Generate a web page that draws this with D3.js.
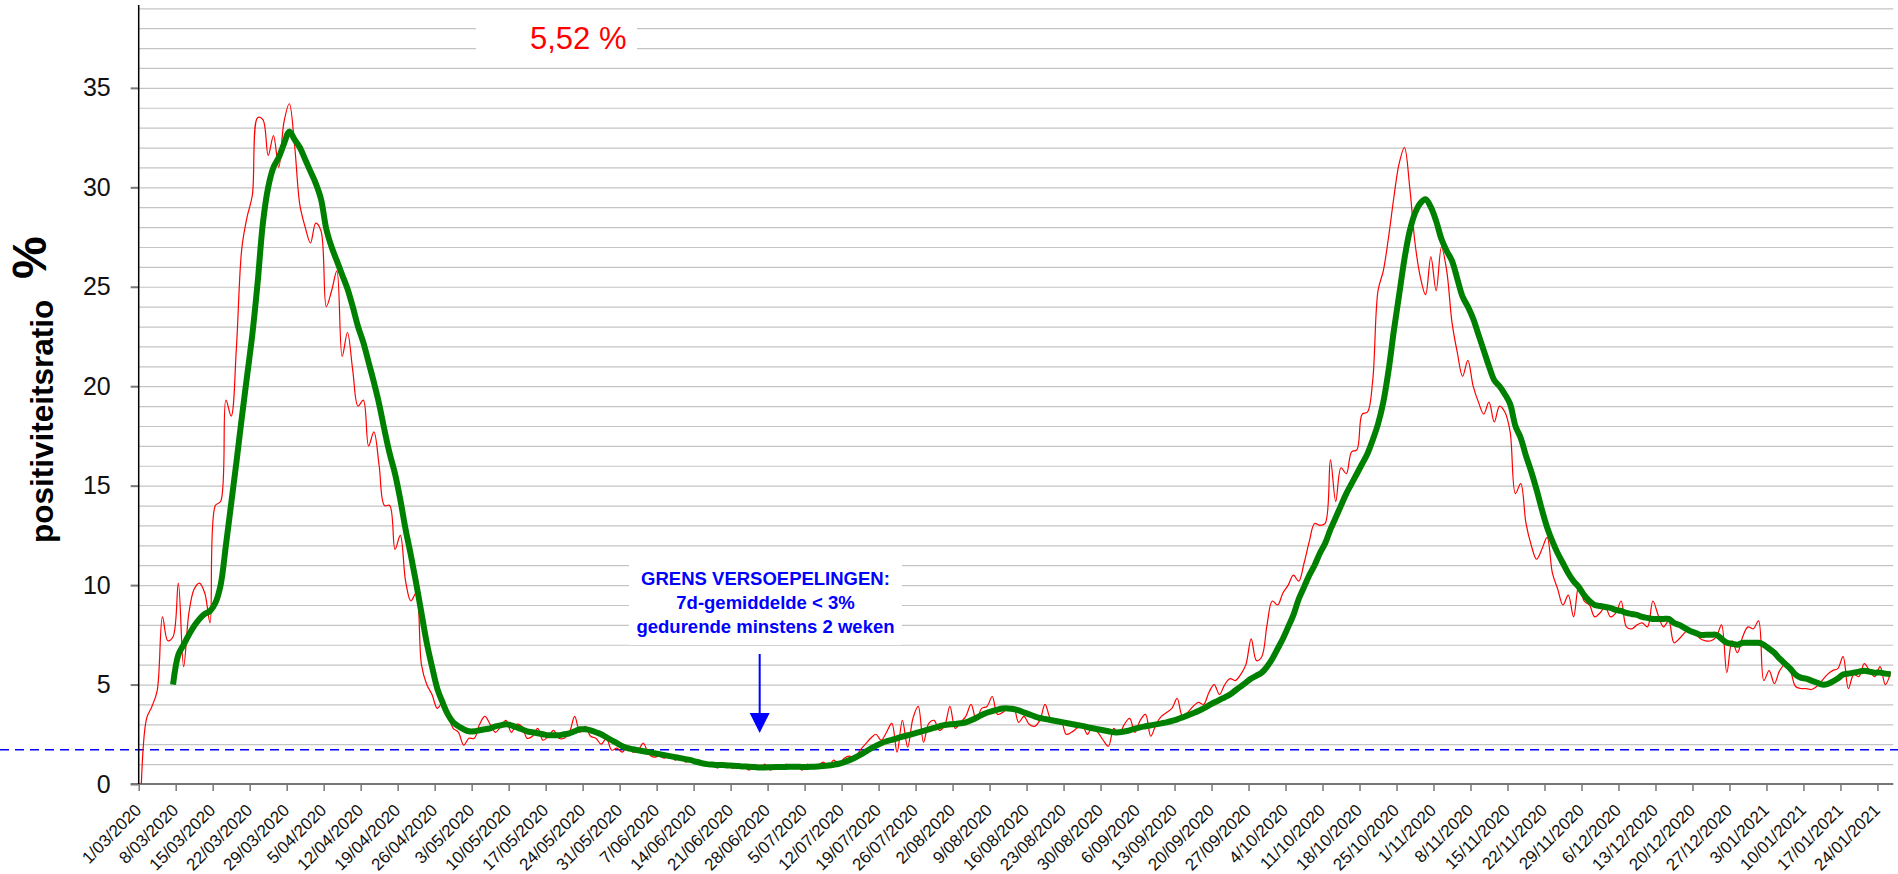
<!DOCTYPE html>
<html>
<head>
<meta charset="utf-8">
<script src="https://cdn.jsdelivr.net/npm/d3@7"></script>
<style>
  body { margin: 0; background: #fff; }
  svg { display: block; font-family: "Liberation Sans", Arial, sans-serif; }
</style>
</head>
<body>
<script>
//Declare consts/global variables
const width = 1898;
const height = 874;
const plotLeft = 138.7, plotRight = 1893.3, plotBottom = 784, plotTop = 8.3;

//Data: one value per day starting 1/03/2020
const tickLabels = ["1/03/2020","8/03/2020","15/03/2020","22/03/2020","29/03/2020","5/04/2020","12/04/2020","19/04/2020","26/04/2020","3/05/2020","10/05/2020","17/05/2020","24/05/2020","31/05/2020","7/06/2020","14/06/2020","21/06/2020","28/06/2020","5/07/2020","12/07/2020","19/07/2020","26/07/2020","2/08/2020","9/08/2020","16/08/2020","23/08/2020","30/08/2020","6/09/2020","13/09/2020","20/09/2020","27/09/2020","4/10/2020","11/10/2020","18/10/2020","25/10/2020","1/11/2020","8/11/2020","15/11/2020","22/11/2020","29/11/2020","6/12/2020","13/12/2020","20/12/2020","27/12/2020","3/01/2021","10/01/2021","17/01/2021","24/01/2021"];

// daily positivity ratio (red)
const daily = [
  0, 3.3, 3.9, 4.7, 8.4, 7.2, 7.4, 10.1, 5.9, 8.6,
  9.8, 10.1, 9.6, 8.1, 14.0, 14.2, 19.3, 18.5, 22.0, 26.9,
  28.5, 29.6, 33.5, 33.4, 31.6, 32.6, 31.0, 33.3, 34.2, 32.1,
  29.1, 28.0, 27.2, 28.2, 27.8, 24.0, 24.8, 25.8, 21.5, 22.7,
  20.8, 19.0, 19.3, 17.0, 17.7, 16.0, 14.0, 14.0, 11.8, 12.5,
  10.2, 9.2, 9.6, 6.0, 5.0, 4.5, 3.8, 4.1, 3.5, 2.8,
  2.6, 1.95, 2.3, 2.3, 3.0, 3.4, 3.0, 2.6, 2.9, 3.2,
  2.6, 3.0, 2.9, 2.3, 2.4, 2.8, 2.2, 2.4, 2.7, 2.3,
  2.3, 2.6, 3.4, 2.6, 2.9, 2.4, 2.3, 2.0, 2.3, 1.7,
  1.8, 1.6, 1.9, 1.6, 1.7, 2.05, 1.5, 1.35, 1.4, 1.3,
  1.5, 1.2, 1.4, 1.1, 1.3, 1.0, 1.1, 0.9, 1.0, 0.8,
  1.0, 0.9, 0.8, 1.0, 0.9, 0.7, 0.9, 0.8, 1.0, 0.7,
  0.9, 0.8, 1.0, 0.8, 0.9, 0.7, 1.0, 0.8, 0.9, 1.1,
  0.9, 1.2, 1.0, 1.3, 1.4, 1.3, 1.7, 2.0, 2.3, 2.5,
  2.2, 2.6, 3.05, 1.6, 3.2, 1.85, 3.3, 3.9, 2.1, 3.05,
  3.2, 2.7, 2.95, 3.9, 2.8, 3.1, 3.4, 4.0, 3.2, 3.8,
  3.9, 4.4, 3.5, 3.6, 3.8, 3.9, 3.1, 3.4, 3.0, 2.9,
  3.2, 4.0, 3.3, 3.1, 3.2, 2.5, 2.6, 2.8, 3.0, 2.5,
  2.9, 2.6, 2.2, 1.9, 2.8, 2.5, 3.0, 3.3, 2.6, 3.2,
  3.5, 2.4, 3.0, 3.4, 3.6, 3.8, 4.3, 3.4, 3.6, 3.9,
  4.1, 4.0, 4.6, 5.0, 4.5, 5.0, 5.3, 5.2, 5.5, 6.0,
  7.3, 6.2, 6.4, 8.0, 9.2, 9.0, 9.6, 10.0, 10.5, 10.2,
  11.1, 12.2, 13.1, 13.0, 13.1, 16.3, 14.2, 15.9, 15.6, 16.7,
  16.8, 18.6, 18.7, 20.3, 24.8, 25.8, 27.5, 29.5, 31.2, 32.0,
  30.0, 27.2, 25.5, 24.6, 26.5, 24.8, 27.0, 25.8, 23.2, 21.7,
  20.5, 21.3, 20.0, 19.2, 18.6, 19.2, 18.2, 19.0, 18.7, 17.7,
  14.6, 15.1, 13.1, 12.0, 11.3, 11.8, 12.4, 10.6, 9.8, 9.0,
  9.5, 8.4, 10.0, 9.2, 9.0, 8.4, 8.6, 8.9, 8.4, 8.6,
  9.2, 7.9, 7.8, 8.0, 8.1, 7.9, 9.2, 8.5, 7.9, 8.2,
  7.1, 7.3, 7.6, 7.8, 7.6, 7.3, 7.2, 7.2, 7.4, 8.0,
  5.6, 7.2, 6.6, 7.4, 7.9, 7.8, 8.2, 5.2, 5.7, 5.05,
  5.7, 6.0, 5.7, 4.9, 4.8, 4.8, 4.75, 4.9, 5.2, 5.5,
  5.7, 5.8, 6.4, 4.8, 5.5, 5.4, 6.05, 5.7, 5.4, 5.9,
  5.0, 5.6
];

// 7-day average (green)
const avg7 = [
  null, null, null, null, null, null, 5.0, 6.5, 7.0, 7.5,
  7.95, 8.3, 8.55, 8.7, 9.1, 10.0, 12.0, 14.1, 16.2, 18.4,
  20.5, 22.6, 25.2, 28.2, 30.0, 31.0, 31.5, 32.2, 32.8, 32.4,
  32.0, 31.4, 30.8, 30.2, 29.4, 27.9, 27.0, 26.3, 25.6, 24.9,
  24.0, 23.0, 22.2, 21.2, 20.2, 19.1, 17.8, 16.6, 15.6, 14.3,
  12.8, 11.5, 10.1, 8.6, 7.1, 5.9, 4.8, 4.1, 3.5, 3.1,
  2.9, 2.75, 2.65, 2.65, 2.7, 2.75, 2.8, 2.9, 2.95, 3.0,
  2.95, 2.85, 2.75, 2.65, 2.6, 2.55, 2.5, 2.45, 2.45, 2.45,
  2.5, 2.55, 2.65, 2.75, 2.75, 2.7, 2.6, 2.5, 2.35, 2.2,
  2.05, 1.9, 1.8, 1.75, 1.7, 1.65, 1.6, 1.55, 1.5, 1.45,
  1.4, 1.35, 1.3, 1.25, 1.2, 1.12, 1.05, 1.0, 0.98, 0.96,
  0.95, 0.93, 0.92, 0.9, 0.88, 0.87, 0.85, 0.83, 0.83, 0.84,
  0.85, 0.85, 0.86, 0.87, 0.87, 0.86, 0.86, 0.87, 0.88, 0.9,
  0.93, 0.97, 1.02, 1.1, 1.2, 1.32, 1.46, 1.62, 1.78, 1.92,
  2.05, 2.15, 2.22, 2.3, 2.38, 2.45, 2.52, 2.6, 2.67, 2.75,
  2.82, 2.9, 2.97, 3.0, 3.02, 3.05, 3.1, 3.2, 3.33, 3.47,
  3.58, 3.66, 3.74, 3.8, 3.8, 3.77, 3.7, 3.6, 3.5, 3.4,
  3.32, 3.27, 3.22, 3.17, 3.12, 3.07, 3.02, 2.97, 2.92, 2.86,
  2.8, 2.75, 2.7, 2.65, 2.6, 2.6, 2.64, 2.7, 2.78, 2.85,
  2.9, 2.95, 3.0, 3.05, 3.1, 3.17, 3.25, 3.35, 3.45, 3.56,
  3.67, 3.8, 3.95, 4.1, 4.22, 4.36, 4.5, 4.7, 4.9, 5.1,
  5.3, 5.45, 5.6, 5.9, 6.3, 6.8, 7.3, 7.9, 8.5, 9.3,
  9.9, 10.5, 11.0, 11.6, 12.1, 12.8, 13.4, 14.0, 14.6, 15.1,
  15.6, 16.1, 16.6, 17.3, 18.1, 19.2, 20.8, 22.8, 24.6, 26.4,
  27.8, 28.7, 29.2, 29.4, 29.0, 28.3, 27.4, 26.8, 26.3, 25.4,
  24.5, 24.0, 23.4, 22.6, 21.8, 21.0, 20.3, 20.0, 19.6, 19.1,
  18.0, 17.4, 16.5, 15.7, 14.8, 13.8, 12.9, 12.2, 11.6, 11.1,
  10.6, 10.2, 9.9, 9.5, 9.2, 9.0, 8.95, 8.9, 8.85, 8.75,
  8.7, 8.6, 8.55, 8.5, 8.4, 8.35, 8.3, 8.3, 8.3, 8.3,
  8.1, 8.0, 7.85, 7.7, 7.6, 7.5, 7.5, 7.5, 7.5, 7.3,
  7.1, 7.05, 7.0, 7.1, 7.1, 7.1, 7.1, 7.0, 6.8, 6.6,
  6.3, 6.05, 5.8, 5.5, 5.35, 5.3, 5.2, 5.1, 5.0, 5.02,
  5.15, 5.3, 5.5, 5.55, 5.6, 5.65, 5.7, 5.65, 5.6, 5.6,
  5.55, 5.52
];

const yTicks = [0, 5, 10, 15, 20, 25, 30, 35];
const threshold = 1.72;
const lastValue = "5,52 %";
const noteLines = ["GRENS VERSOEPELINGEN:", "7d-gemiddelde < 3%", "gedurende minstens 2 weken"];
const noteDay = 117.5;

//Scales
const nDays = daily.length;
const xScale = d3.scaleLinear().domain([0, nDays]).range([plotLeft, plotRight]);
const yScale = d3.scaleLinear().domain([0, 39]).range([plotBottom, plotTop]);

//SVG
const svg = d3.select("body").append("svg")
    .attr("width", width)
    .attr("height", height);
svg.append("rect").attr("width", width).attr("height", height).attr("fill", "#fff");

//Gridlines
svg.append("g")
    .attr("transform", "translate(" + plotLeft + ",0)")
    .call(d3.axisLeft(yScale).tickValues(d3.range(1, 40)).tickSize(-(plotRight - plotLeft)).tickFormat(""))
    .call(g => g.select(".domain").remove())
    .selectAll("line").attr("stroke", "#c4c4c4").attr("stroke-width", 1.2);

//Boxes behind the texts
svg.append("rect").attr("x", 476).attr("y", 13).attr("width", 161).attr("height", 46).attr("fill", "#fff");
svg.append("rect").attr("x", 629).attr("y", 553).attr("width", 273).attr("height", 92).attr("fill", "#fff");

//Threshold line
svg.append("line")
    .attr("x1", 0).attr("x2", width)
    .attr("y1", yScale(threshold)).attr("y2", yScale(threshold))
    .attr("stroke", "#0000ff").attr("stroke-width", 1.6)
    .attr("stroke-dasharray", "9,6");

//Axes
const bottomAxis = d3.axisBottom(xScale)
    .tickValues(tickLabels.map((t, i) => i * 7))
    .tickFormat((d, i) => tickLabels[i])
    .tickSize(7)
    .tickSizeOuter(0);
const xg = svg.append("g")
    .attr("transform", "translate(0," + plotBottom + ")")
    .call(bottomAxis);
xg.select(".domain").attr("d", "M" + (plotLeft - 8) + ",0H" + plotRight).attr("stroke", "#777").attr("stroke-width", 2);
xg.selectAll(".tick line").attr("stroke", "#777").attr("stroke-width", 1.5);
xg.selectAll(".tick text")
    .attr("y", 0).attr("dy", "0.35em")
    .attr("transform", "translate(-1,23) rotate(-45)")
    .attr("text-anchor", "end")
    .attr("font-size", 17)
    .attr("fill", "#111");

const leftAxis = d3.axisLeft(yScale).tickValues(yTicks).tickSize(8).tickPadding(20).tickSizeOuter(0);
const yg = svg.append("g")
    .attr("transform", "translate(" + plotLeft + ",0)")
    .call(leftAxis);
yg.select(".domain").remove();
yg.selectAll(".tick line").attr("stroke", "#777").attr("stroke-width", 2);
yg.selectAll(".tick text").attr("font-size", 25).attr("fill", "#111");
svg.append("line")
    .attr("x1", plotLeft).attr("x2", plotLeft).attr("y1", 5).attr("y2", plotBottom)
    .attr("stroke", "#000").attr("stroke-width", 1.5);

//Lines
const line = d3.line()
    .defined(d => d != null)
    .x((d, i) => xScale(i + 0.5))
    .y(d => yScale(d))
    .curve(d3.curveCatmullRom);

svg.append("path")
    .datum(daily)
    .attr("d", line)
    .attr("fill", "none")
    .attr("stroke", "#ff0000")
    .attr("stroke-width", 1.2);

svg.append("path")
    .datum(avg7)
    .attr("d", line)
    .attr("fill", "none")
    .attr("stroke", "#008000")
    .attr("stroke-width", 6)
    .attr("stroke-linejoin", "round");

//Texts
svg.append("text")
    .attr("x", 530).attr("y", 49)
    .attr("font-size", 31).attr("fill", "#ff0000")
    .text(lastValue);

svg.append("text")
    .attr("transform", "translate(53,543) rotate(-90)")
    .attr("font-size", 31.5).attr("font-weight", "bold").attr("fill", "#000")
    .text("positiviteitsratio");
svg.append("text")
    .attr("transform", "translate(46,279) rotate(-90)")
    .attr("font-size", 48).attr("font-weight", "bold").attr("fill", "#000")
    .text("%");

svg.append("g").selectAll("text")
    .data(noteLines)
    .enter()
    .append("text")
    .attr("x", 765.5)
    .attr("y", (d, i) => 585 + i * 24)
    .attr("text-anchor", "middle")
    .attr("font-size", 18.5).attr("font-weight", "bold").attr("fill", "#0000ff")
    .text(d => d);

//Arrow
const ax = xScale(noteDay);
svg.append("line")
    .attr("x1", ax).attr("x2", ax).attr("y1", 654).attr("y2", 715)
    .attr("stroke", "#0000ff").attr("stroke-width", 2);
svg.append("path")
    .attr("d", "M" + (ax - 10) + ",713L" + (ax + 10) + ",713L" + ax + ",733Z")
    .attr("fill", "#0000ff");
</script>
</body>
</html>
